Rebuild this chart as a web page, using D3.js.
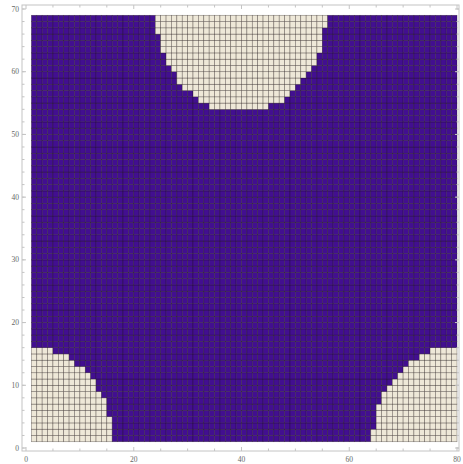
<!DOCTYPE html>
<html><head><meta charset="utf-8">
<script src="https://cdn.jsdelivr.net/npm/d3@7"></script>
<style>html,body{margin:0;padding:0;background:#fff}svg{display:block}</style>
</head><body>
<svg id="c" width="463" height="464"></svg>
<script>
// grid size (cells)
const colsX = d3.range(1, 80);   // 79 columns
const rowsY = d3.range(1, 69);   // 68 rows
// bottom-left beige region: rows 1..15, last beige column per row
const blRows = d3.range(1, 16);
const blEnd = [15,15,15,15,14,14,14,13,12,12,11,10,8,7,4];
// bottom-right beige region: first beige column per row
const brStart = [64,64,65,65,65,65,66,66,67,68,69,70,71,73,75];
// top beige region: rows 54..68
const topRows = d3.range(54, 69);
const topStart = [34,32,31,29,28,28,27,26,26,25,25,25,24,24,24];
const topEnd   = [44,47,48,49,50,51,52,53,53,54,54,54,54,55,55];
const xTicks = [0,20,40,60,80];
const yTicks = [0,10,20,30,40,50,60,70];

const purple = "#420f90", beige = "#eee8d8";
const svg = d3.select("#c");
const x = d3.scaleLinear().domain([0,80]).range([26,457]);
const y = d3.scaleLinear().domain([0,70]).range([448,9]);

function isBeige(c, r){
  const bi = blRows.indexOf(r);
  if (bi >= 0 && (c <= blEnd[bi] || c >= brStart[bi])) return true;
  const ti = topRows.indexOf(r);
  if (ti >= 0 && c >= topStart[ti] && c <= topEnd[ti]) return true;
  return false;
}
const cells = [];
rowsY.forEach(r => colsX.forEach(c => cells.push({c, r, v: isBeige(c, r) ? 1 : 0})));

svg.append("g").selectAll("rect").data(cells).join("rect")
  .attr("x", d => x(d.c)).attr("y", d => y(d.r + 1))
  .attr("width", d => x(d.c + 1) - x(d.c))
  .attr("height", d => y(d.r) - y(d.r + 1))
  .attr("fill", d => d.v ? beige : purple)
  .attr("stroke", "rgba(30,20,20,0.5)").attr("stroke-width", 0.6);

// frame
const L = 22, R = 459, T = 5, B = 451;
const fg = svg.append("g").attr("stroke", "#c4c4c4").attr("stroke-width", 1).attr("fill", "none");
fg.append("rect").attr("x", L).attr("y", T).attr("width", R - L).attr("height", B - T);

// x ticks (bottom and top)
const xMinor = d3.range(0, 81, 5);
xMinor.forEach(v => {
  const len = xTicks.includes(v) ? 4 : 2.5;
  fg.append("line").attr("x1", x(v)).attr("x2", x(v)).attr("y1", B).attr("y2", B - len);
  fg.append("line").attr("x1", x(v)).attr("x2", x(v)).attr("y1", T).attr("y2", T + len);
});
const yMinor = d3.range(0, 71, 2);
yMinor.forEach(v => {
  const len = 2.5;
  fg.append("line").attr("x1", L).attr("x2", L + len).attr("y1", y(v)).attr("y2", y(v));
  fg.append("line").attr("x1", R).attr("x2", R - len).attr("y1", y(v)).attr("y2", y(v));
});
yTicks.forEach(v => {
  fg.append("line").attr("x1", L).attr("x2", L + 4).attr("y1", y(v)).attr("y2", y(v));
  fg.append("line").attr("x1", R).attr("x2", R - 4).attr("y1", y(v)).attr("y2", y(v));
});

const tg = svg.append("g").attr("font-family", "Liberation Serif, serif").attr("font-size", 7.5).attr("fill", "#666");
xTicks.forEach(v => tg.append("text").attr("x", x(v)).attr("y", 462).attr("text-anchor", "middle").text(v));
yTicks.forEach(v => tg.append("text").attr("x", 19).attr("y", y(v) + 2.5).attr("text-anchor", "end").text(v));
</script>
</body></html>
